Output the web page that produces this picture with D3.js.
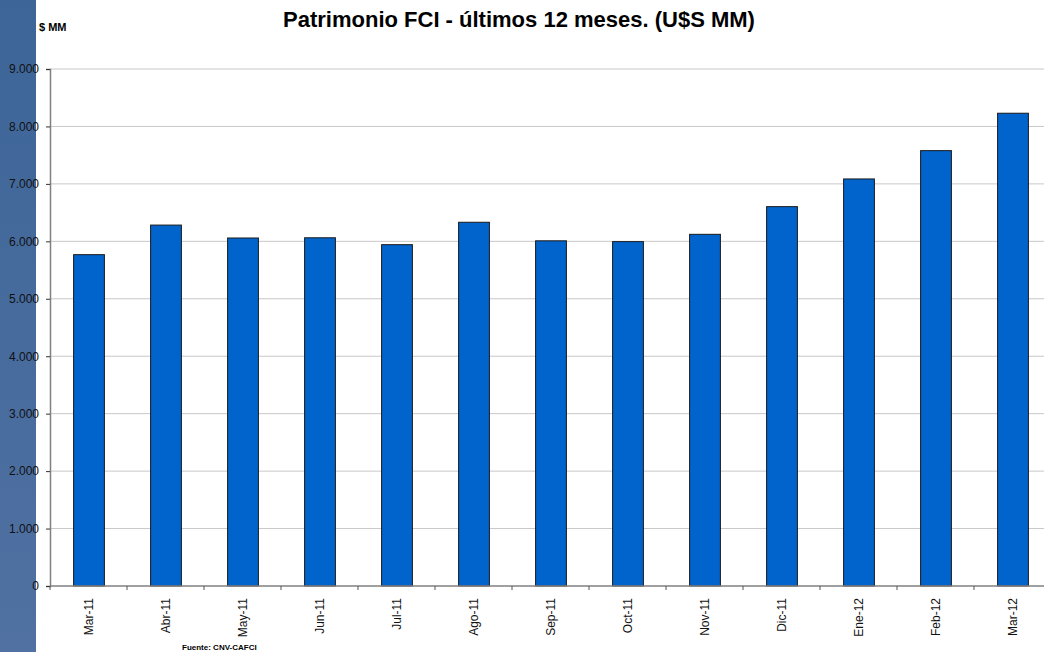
<!DOCTYPE html>
<html><head><meta charset="utf-8">
<script src="https://cdn.jsdelivr.net/npm/d3@7"></script>
<style>body{margin:0;background:#fff}svg{display:block;font-family:"Liberation Sans",Arial,sans-serif}</style>
</head><body>
<svg id="c" width="1044" height="652"></svg>
<script>
const categories = ["Mar-11","Abr-11","May-11","Jun-11","Jul-11","Ago-11","Sep-11","Oct-11","Nov-11","Dic-11","Ene-12","Feb-12","Mar-12"];
const values = [5768, 6283, 6058, 6062, 5942, 6332, 6009, 5995, 6122, 6604, 7086, 7579, 8230];
const yTicks = [0,1000,2000,3000,4000,5000,6000,7000,8000,9000];
const title = "Patrimonio FCI - últimos 12 meses. (U$S MM)";
const yUnit = "$ MM";
const source = "Fuente: CNV-CAFCI";

const svg = d3.select("#c");
const defs = svg.append("defs");
const g0 = defs.append("linearGradient").attr("id","strip").attr("x1",0).attr("y1",0).attr("x2",0).attr("y2",1);
g0.append("stop").attr("offset","0").attr("stop-color","#3d6598");
g0.append("stop").attr("offset","1").attr("stop-color","#5071a2");
svg.append("rect").attr("x",0).attr("y",0).attr("width",36).attr("height",652).attr("fill","url(#strip)");

const mLeft = 50, mTop = 69, mBottom = 586, band = 77;
const x = d3.scaleBand().domain(categories).range([mLeft, mLeft + band*categories.length]).paddingInner(0.6).paddingOuter(0.3);
const y = d3.scaleLinear().domain([0, 9000]).range([mBottom, mTop]);
const fmt = d => d3.format(",")(d).replace(/,/g, ".");

// gridlines
svg.append("g").selectAll("line").data(yTicks.filter(d=>d>0)).join("line")
  .attr("x1", mLeft).attr("x2", 1044).attr("y1", d=>y(d)).attr("y2", d=>y(d))
  .attr("stroke", "#c8c8c8").attr("stroke-width", 1);

// bars
svg.append("g").selectAll("rect").data(values).join("rect")
  .attr("x", (d,i)=>x(categories[i])+0.5).attr("width", x.bandwidth())
  .attr("y", d=>y(d)).attr("height", d=>mBottom - y(d))
  .attr("fill", "#0064cc").attr("stroke", "#1a1a1a").attr("stroke-width", 1);

// y axis
const ya = svg.append("g").attr("transform", `translate(${mLeft},0)`)
  .call(d3.axisLeft(y).tickValues(yTicks).tickFormat(fmt).tickSize(4).tickPadding(7));
ya.select(".domain").attr("stroke", "#808080").attr("stroke-width", 1.5);
ya.selectAll(".tick line").attr("stroke", "#333");
ya.selectAll(".tick text").attr("font-size", 12).attr("fill", "#111").attr("font-family", "Liberation Sans, Arial, sans-serif");

// x axis
const xb = d3.scaleLinear().domain([0, categories.length]).range([mLeft, mLeft + band*categories.length]);
const xa = svg.append("g");
xa.append("line").attr("x1", mLeft).attr("x2", 1044).attr("y1", mBottom).attr("y2", mBottom).attr("stroke", "#808080").attr("stroke-width", 1.5);
xa.selectAll("line.t").data(d3.range(categories.length+1)).join("line").attr("class","t")
  .attr("x1", d=>xb(d)).attr("x2", d=>xb(d)).attr("y1", mBottom).attr("y2", mBottom+4).attr("stroke", "#555");
xa.selectAll("text").data(categories).join("text")
  .attr("transform", d=>`translate(${x(d)+x.bandwidth()/2+4},${mBottom+12}) rotate(-90)`)
  .attr("text-anchor", "end").attr("font-size", 12).attr("fill", "#111").text(d=>d);

// texts
svg.append("text").attr("x", 519).attr("y", 27).attr("text-anchor", "middle")
  .attr("font-size", 22).attr("font-weight", "bold").attr("fill", "#000").text(title);
svg.append("text").attr("x", 39).attr("y", 31).attr("font-size", 11).attr("font-weight", "bold").attr("fill", "#000").text(yUnit);
svg.append("text").attr("x", 182).attr("y", 650).attr("font-size", 8).attr("font-weight", "bold").attr("fill", "#000").text(source);
</script>
</body></html>
